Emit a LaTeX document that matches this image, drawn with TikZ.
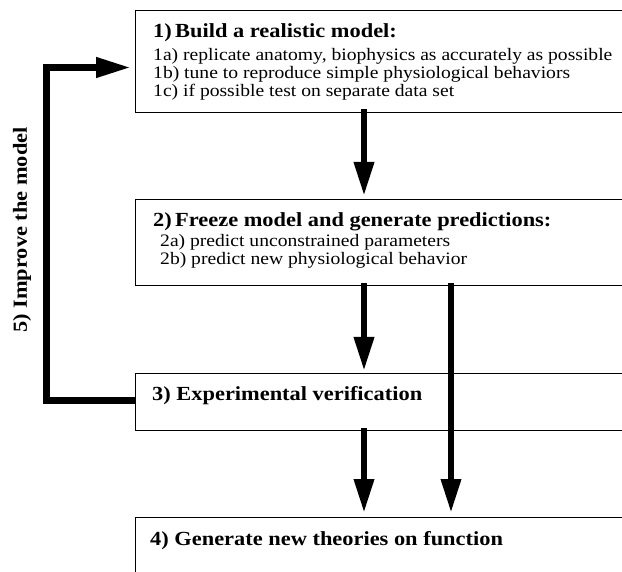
\documentclass[tikz,border=0pt]{standalone}
\usepackage{fontspec}
\setmainfont[FakeStretch=1.12]{Liberation Serif}
\usetikzlibrary{arrows.meta, positioning}

\begin{document}
\begin{tikzpicture}[
    x=1pt, y=-1pt,
    stage/.style={draw, line width=1.4pt, anchor=north west, minimum width=520pt, minimum height=#1, inner sep=0pt},
    title/.style={anchor=base west, inner sep=0pt, font=\fontsize{20}{20}\selectfont\bfseries},
    detail/.style={anchor=base west, inner sep=0pt, font=\fontsize{17.5}{18}\selectfont},
    flow/.style={line width=6.5pt, -{Triangle[length=34pt, width=19pt]}},
    feedback/.style={line width=7pt, -{Triangle[length=35pt, width=19pt]}}
]
    \useasboundingbox (0,0) rectangle (622,572);
    \clip (0,0) rectangle (622,572);

    % Stage boxes (open to the right and bottom)
    \node[stage=102pt] (build) at (135,10) {};
    \node[stage=86pt] (freeze) at (135,199) {};
    \node[stage=57pt] (verify) at (135,373) {};
    \node[stage=90pt] (theory) at (135,517) {};

    % 1) model
    \node[title] (buildtitle) at (153,38) {1)\,Build a realistic model:};
    \node[detail] (builda) at (153,61) {1a) replicate anatomy, biophysics as accurately as possible};
    \node[detail] (buildb) at (153,79) {1b) tune to reproduce simple physiological behaviors};
    \node[detail] (buildc) at (153,97) {1c) if possible test on separate data set};

    % 2) predictions
    \node[title] (freezetitle) at (153,227) {2)\,Freeze model and generate predictions:};
    \node[detail] (freezea) at (160,247) {2a) predict unconstrained parameters};
    \node[detail] (freezeb) at (160,265) {2b) predict new physiological behavior};

    % 3) and 4)
    \node[title] (verifytitle) at (152,401) {3) Experimental verification};
    \node[title] (theorytitle) at (150,545) {4) Generate new theories on function};

    % Columns for the arrows
    \coordinate (colA) at (364,0);
    \coordinate (colB) at (451,0);
    \coordinate (loopx) at (46,67.5);

    % Connections
    \draw[flow] ([yshift=4pt]build.south -| colA) -- ([yshift=3pt]freeze.north -| colA);
    \draw[flow] ([yshift=3pt]freeze.south -| colA) -- ([yshift=2pt]verify.north -| colA);
    \draw[flow] ([yshift=3pt]freeze.south -| colB) -- ([yshift=4pt]theory.north -| colB);
    \draw[flow] ([yshift=3pt]verify.south -| colA) -- ([yshift=4pt]theory.north -| colA);

    % Feedback loop
    \draw[feedback] ([yshift=2pt]verify.west) -| (loopx) -- ([xshift=-4pt]loopx -| build.west);
    \node[rotate=90, font=\fontsize{20}{20}\selectfont\bfseries] (improve) at (22,230) {5) Improve the model};

\end{tikzpicture}
\end{document}
